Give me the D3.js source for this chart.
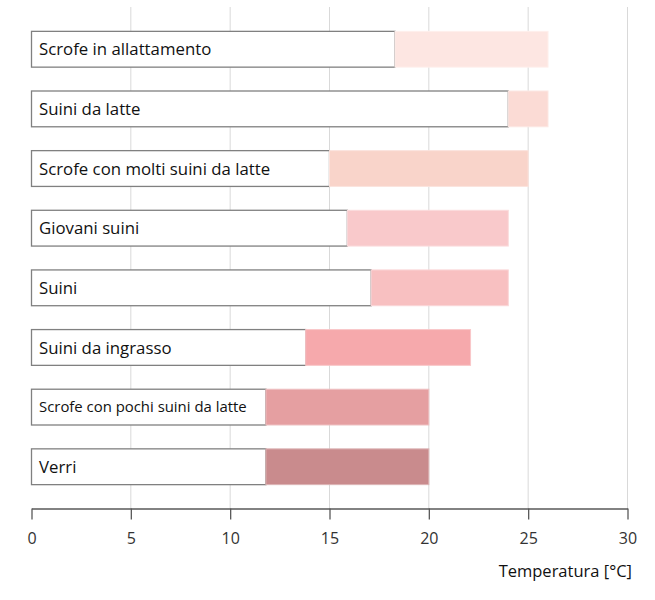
<!DOCTYPE html>
<html>
<head>
<meta charset="utf-8">
<script src="https://cdn.jsdelivr.net/npm/d3@7"></script>
<style>
  html, body { margin: 0; padding: 0; background: #fff; }
  svg { display: block; }
  text { font-family: "Open Sans", "Noto Sans", sans-serif; }
</style>
</head>
<body>
<svg id="chart" width="655" height="600"></svg>
<script>
const categories = [
  "Scrofe in allattamento",
  "Suini da latte",
  "Scrofe con molti suini da latte",
  "Giovani suini",
  "Suini",
  "Suini da ingrasso",
  "Scrofe con pochi suini da latte",
  "Verri"
];
const minTemp = [18.3, 24.0, 15.0, 15.9, 17.1, 13.8, 11.8, 11.8];
const maxTemp = [26.0, 26.0, 25.0, 24.0, 24.0, 22.1, 20.0, 20.0];
const barColors = ["#fde6e2", "#fbdbd5", "#f9d4ca", "#f9c9cb", "#f8c0c1", "#f6a9ac", "#e59fa1", "#c98b8d"];
const tickValues = [0, 5, 10, 15, 20, 25, 30];
const axisTitle = "Temperatura [°C]";

const svg = d3.select("#chart");
const x = d3.scaleLinear().domain([0, 30]).range([31.5, 627.5]);
const y = d3.scaleBand().domain(categories).range([7.5, 508.5]).paddingInner(0.4).paddingOuter(0.4);
const axisY = 508.5;

// gridlines
svg.append("g").selectAll("line")
  .data(tickValues.filter(v => v > 0))
  .join("line")
  .attr("x1", d => x(d)).attr("x2", d => x(d))
  .attr("y1", 7).attr("y2", axisY)
  .attr("stroke", "#d9d9d9").attr("stroke-width", 1);

const rows = categories.map((c, i) => ({ c, lo: minTemp[i], hi: maxTemp[i], col: barColors[i] }));

// white (base) bars
svg.append("g").selectAll("rect")
  .data(rows)
  .join("rect")
  .attr("x", x(0)).attr("y", d => y(d.c))
  .attr("width", d => x(d.lo) - x(0))
  .attr("height", y.bandwidth())
  .attr("fill", "#fff")
  .attr("stroke", "#808080").attr("stroke-width", 1.3);

// range bars
svg.append("g").selectAll("rect")
  .data(rows)
  .join("rect")
  .attr("x", d => x(d.lo)).attr("y", d => y(d.c))
  .attr("width", d => x(d.hi) - x(d.lo))
  .attr("height", y.bandwidth())
  .attr("fill", d => d.col)
  .attr("stroke", d => d3.interpolateRgb(d.col, "#ffffff")(0.35))
  .attr("stroke-width", 1);

// labels
svg.append("g").selectAll("text")
  .data(rows)
  .join("text")
  .attr("x", 39)
  .attr("y", d => y(d.c) + y.bandwidth() / 2)
  .attr("dy", "0.36em")
  .attr("font-size", d => d.c === "Scrofe con pochi suini da latte" ? 14.9 : 16.8)
  .attr("fill", "#111")
  .text(d => d.c);

// x axis
const axis = d3.axisBottom(x).tickValues(tickValues).tickSize(11).tickPadding(13).tickSizeOuter(0);
const gAxis = svg.append("g").attr("transform", `translate(0,${axisY})`).call(axis);
gAxis.select(".domain").attr("stroke", "#595959").attr("stroke-width", 1.3);
gAxis.selectAll(".tick line").attr("stroke", "#595959").attr("stroke-width", 1.3);
gAxis.selectAll(".tick text").attr("font-size", 16).attr("fill", "#333").attr("font-family", '"Open Sans", sans-serif');

svg.append("text")
  .attr("x", 632).attr("y", 577)
  .attr("text-anchor", "end")
  .attr("font-size", 16.5)
  .attr("fill", "#111")
  .text(axisTitle);
</script>
</body>
</html>
